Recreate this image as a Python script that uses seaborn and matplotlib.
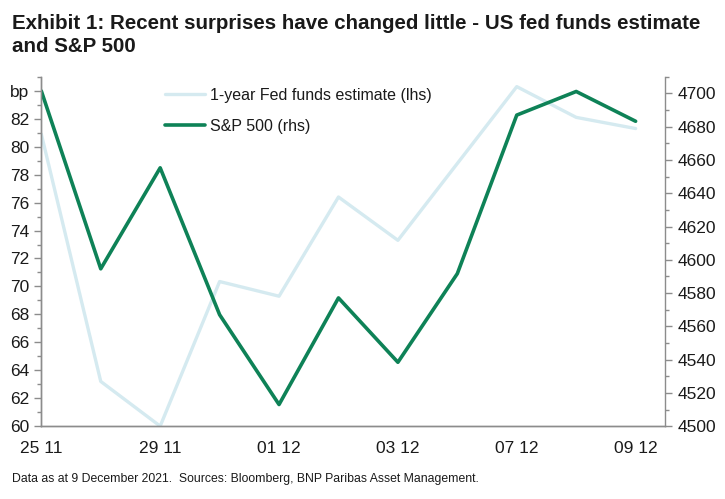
import matplotlib
matplotlib.use("Agg")
import matplotlib.pyplot as plt
from matplotlib import font_manager
from matplotlib.ticker import FixedLocator, MultipleLocator
import pandas as pd
import seaborn as sns

dates = ["25 11", "26 11", "29 11", "30 11", "01 12", "02 12",
         "03 12", "06 12", "07 12", "08 12", "09 12"]
fed_funds = [80.9, 63.2, 60.0, 70.35, 69.3, 76.4, 73.3, 78.8, 84.3, 82.1, 81.3]
spx = [4701.5, 4594.6, 4655.3, 4567.0, 4513.0, 4577.1, 4538.4, 4591.7, 4687.0, 4701.2, 4683.3]

left_ticks = [60, 62, 64, 66, 68, 70, 72, 74, 76, 78, 80, 82, 84]
left_labels = ["60", "62", "64", "66", "68", "70", "72", "74", "76", "78", "80", "82", "bp"]
right_ticks = [4500, 4520, 4540, 4560, 4580, 4600, 4620, 4640, 4660, 4680, 4700]

names = {f.name for f in font_manager.fontManager.ttflist}
font = "Liberation Sans Narrow" if "Liberation Sans Narrow" in names else "Liberation Sans"

sns.set_style("white")
plt.rcParams["font.family"] = [font, "DejaVu Sans"]

df = pd.DataFrame({"pos": range(len(dates)), "fed": fed_funds, "spx": spx})

fig = plt.figure(figsize=(7.25, 4.99), dpi=100)
ax = fig.add_axes([0.057, 0.146, 0.8607, 0.7])
ax2 = ax.twinx()

light = "#d5eaf0"
green = "#0e8257"
grey = "#8c8c8c"
ink = "#1a1a1a"

sns.lineplot(data=df, x="pos", y="fed", ax=ax, color=light, linewidth=2.4,
             label="1-year Fed funds estimate (lhs)", legend=False)
sns.lineplot(data=df, x="pos", y="spx", ax=ax2, color=green, linewidth=2.6,
             label="S&P 500 (rhs)", legend=False)

ax.set_xlim(0, len(dates) - 0.5)
ax.set_ylim(60, 85)
ax2.set_ylim(4500, 4710)

# tick every half step, label every second date
ax.xaxis.set_major_locator(FixedLocator([i * 0.5 for i in range(2 * len(dates))]))
ax.set_xticklabels([dates[int(i * 0.5)] if i % 4 == 0 else "" for i in range(2 * len(dates))])
ax.set_yticks(left_ticks)
ax.set_yticklabels(left_labels)
ax.yaxis.set_minor_locator(MultipleLocator(1))
ax2.set_yticks(right_ticks)
ax2.yaxis.set_minor_locator(MultipleLocator(10))

for a in (ax, ax2):
    a.set_xlabel("")
    a.set_ylabel("")
    for s in a.spines.values():
        s.set_color(grey)
        s.set_linewidth(1.0)
    a.spines["top"].set_visible(False)
    a.tick_params(which="both", color=grey, labelcolor=ink, labelsize=12.5,
                  direction="out", width=1.0)
    a.tick_params(which="major", length=5)
    a.tick_params(which="minor", length=3)
ax.spines["right"].set_visible(False)
ax.tick_params(axis="x", length=5, pad=6)
ax.tick_params(axis="y", which="both", left=True)
ax2.tick_params(axis="y", which="both", right=True)

h1, l1 = ax.get_legend_handles_labels()
h2, l2 = ax2.get_legend_handles_labels()
ax2.legend(h1 + h2, l1 + l2, loc="upper left", bbox_to_anchor=(0.175, 1.01), frameon=False,
           fontsize=11.5, handlelength=2.5, handletextpad=0.3, labelspacing=1.0,
           labelcolor=ink)

fig.text(0.016, 0.972, "Exhibit 1: Recent surprises have changed little - US fed funds estimate\nand S&P 500",
         ha="left", va="top", fontsize=14.8, fontweight="bold", color=ink, linespacing=1.3)
fig.text(0.016, 0.028, "Data as at 9 December 2021.  Sources: Bloomberg, BNP Paribas Asset Management.",
         ha="left", va="bottom", fontsize=8.8, color=ink)

fig.savefig("out.png", dpi=100)
plt.close(fig)
